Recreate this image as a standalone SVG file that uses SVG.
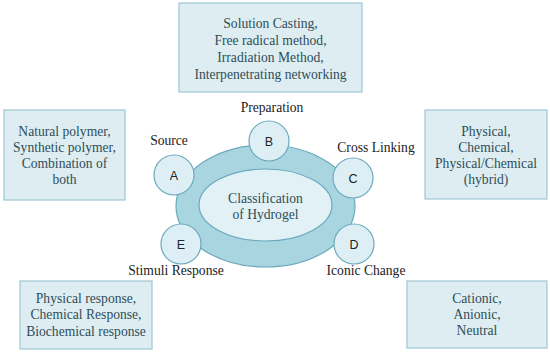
<svg xmlns="http://www.w3.org/2000/svg" width="550" height="353" viewBox="0 0 550 353">
<style>
.box{fill:#deedf2;stroke:#9fc6d2;stroke-width:1.2}
.bt{font-family:"Liberation Serif","Times New Roman",Times,serif;font-size:13.6px;fill:#2e4d58;text-anchor:middle}
.lbl{font-family:"Liberation Serif","Times New Roman",Times,serif;font-size:13.6px;fill:#222;text-anchor:middle}
.circ{fill:#ddeff5;stroke:#6aa9bc;stroke-width:1.2}
.let{font-family:"Liberation Sans",Arial,sans-serif;font-size:12.5px;fill:#222;text-anchor:middle}
</style>
<rect width="550" height="353" fill="#ffffff"/>
<g id="box-preparation">
<rect class="box" x="179" y="3" width="183" height="89"/>
<text class="bt" x="270.5" y="28">Solution Casting,</text>
<text class="bt" x="270.5" y="45">Free radical method,</text>
<text class="bt" x="270.5" y="62">Irradiation Method,</text>
<text class="bt" x="270.5" y="79">Interpenetrating networking</text>
</g>
<g id="box-source">
<rect class="box" x="4" y="110" width="121" height="90"/>
<text class="bt" x="64.5" y="136">Natural polymer,</text>
<text class="bt" x="64.5" y="152">Synthetic polymer,</text>
<text class="bt" x="64.5" y="168">Combination of</text>
<text class="bt" x="64.5" y="184">both</text>
</g>
<g id="box-crosslinking">
<rect class="box" x="425" y="110" width="122" height="89"/>
<text class="bt" x="486" y="136">Physical,</text>
<text class="bt" x="486" y="152">Chemical,</text>
<text class="bt" x="486" y="168">Physical/Chemical</text>
<text class="bt" x="486" y="184">(hybrid)</text>
</g>
<g id="box-stimuli">
<rect class="box" x="20" y="281" width="132" height="68"/>
<text class="bt" x="86" y="303">Physical response,</text>
<text class="bt" x="86" y="319">Chemical Response,</text>
<text class="bt" x="86" y="336">Biochemical response</text>
</g>
<g id="box-ionic">
<rect class="box" x="407" y="281" width="140" height="67"/>
<text class="bt" x="477" y="303">Cationic,</text>
<text class="bt" x="477" y="319">Anionic,</text>
<text class="bt" x="477" y="335">Neutral</text>
</g>
<g id="center">
<ellipse cx="265.5" cy="206" rx="89.5" ry="61" fill="#a9d5e1" stroke="#6aa9bc" stroke-width="1.2"/>
<ellipse cx="265.5" cy="205" rx="66.5" ry="36" fill="#e2f1f6" stroke="#6aa9bc" stroke-width="1.2"/>
<text class="bt" x="265.5" y="203">Classification</text>
<text class="bt" x="265.5" y="219">of Hydrogel</text>
</g>
<g id="node-A">
<circle class="circ" cx="174" cy="175" r="20"/>
<text class="let" x="174" y="179.5">A</text>
<text class="lbl" x="169" y="145">Source</text>
</g>
<g id="node-B">
<circle class="circ" cx="269" cy="141" r="20"/>
<text class="let" x="269" y="145.5">B</text>
<text class="lbl" x="272" y="112">Preparation</text>
</g>
<g id="node-C">
<circle class="circ" cx="353" cy="178" r="20"/>
<text class="let" x="353" y="182.5">C</text>
<text class="lbl" x="376" y="152">Cross Linking</text>
</g>
<g id="node-D">
<circle class="circ" cx="354" cy="244" r="20"/>
<text class="let" x="354" y="248.5">D</text>
<text class="lbl" x="366" y="275">Iconic Change</text>
</g>
<g id="node-E">
<circle class="circ" cx="181" cy="244" r="20"/>
<text class="let" x="181" y="248.5">E</text>
<text class="lbl" x="176" y="275">Stimuli Response</text>
</g>
<g id="connectors"></g>
</svg>
